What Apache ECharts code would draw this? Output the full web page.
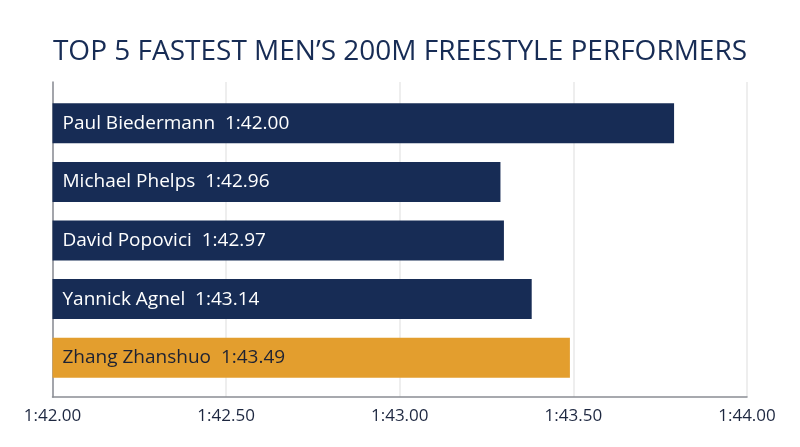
<!DOCTYPE html>
<html><head><meta charset="utf-8">
<script src="https://cdn.jsdelivr.net/npm/echarts@6/dist/echarts.min.js"></script>
<style>html,body{margin:0;padding:0;background:#fff}#c{width:800px;height:447px}</style>
</head><body><div id="c"></div>
<script>
const names = ["Paul Biedermann", "Michael Phelps", "David Popovici", "Yannick Agnel", "Zhang Zhanshuo"];
const times = ["1:42.00", "1:42.96", "1:42.97", "1:43.14", "1:43.49"];
// bar lengths as drawn in the picture (seconds)
const barValues = [103.79, 103.29, 103.30, 103.38, 103.49];
const barColors = ["#172c55", "#172c55", "#172c55", "#172c55", "#e39e2e"];
const labelColors = ["#ffffff", "#ffffff", "#ffffff", "#ffffff", "#1d2233"];
const xMin = 102, xMax = 104, xStep = 0.5;

function fmt(v){
  const m = Math.floor(v/60);
  const s = v - m*60;
  return m + ":" + s.toFixed(2).padStart(5, "0");
}
const FONT = "Open Sans";
const chart = echarts.init(document.getElementById('c'));
chart.setOption({
  animation:false,
  title:{text:"TOP 5 FASTEST MEN\u2019S 200M FREESTYLE PERFORMERS", left:"center", top:33,
    textStyle:{fontFamily:FONT, fontSize:28, fontWeight:"normal", color:"#172c55"}},
  grid:[
    {left:52.5, right:53, top:82, bottom:50},
    {left:52.5, right:53, top:94, bottom:60}
  ],
  xAxis:[
    {gridIndex:0, type:"value", min:xMin, max:xMax, interval:xStep,
      axisLine:{show:true, lineStyle:{color:"#8a8d94", width:1.5}},
      axisTick:{show:false},
      splitLine:{show:true, lineStyle:{color:"#e8e8e8", width:1.5}},
      axisLabel:{formatter:fmt, fontFamily:FONT, fontSize:17, color:"#1d2740", margin:11, showMinLabel:true, showMaxLabel:true}},
    {gridIndex:1, type:"value", min:xMin, max:xMax, interval:xStep, show:false}
  ],
  yAxis:[
    {gridIndex:0, type:"value", min:0, max:1,
      axisLine:{show:true, lineStyle:{color:"#8a8d94", width:1.5}},
      axisTick:{show:false}, axisLabel:{show:false}, splitLine:{show:false}},
    {gridIndex:1, type:"category", data:names, inverse:true, show:false}
  ],
  series:[{
    type:"bar", xAxisIndex:1, yAxisIndex:1,
    barWidth:40,
    data: barValues.map((v,i)=>({value:v, itemStyle:{color:barColors[i]},
      label:{color:labelColors[i]}})),
    label:{show:true, position:"insideLeft", distance:10,
      fontFamily:FONT, fontSize:19,
      formatter:p=>names[p.dataIndex]+"  "+times[p.dataIndex]}
  }]
});
</script></body></html>
